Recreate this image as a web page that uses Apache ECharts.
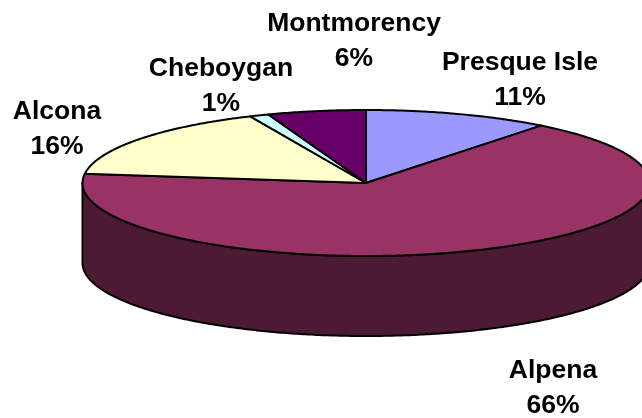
<!DOCTYPE html>
<html>
<head>
<meta charset="utf-8">
<style>
  html, body { margin: 0; padding: 0; background: #fff; }
  #chart { width: 642px; height: 418px; }
</style>
<script src="https://cdn.jsdelivr.net/npm/echarts@6/dist/echarts.min.js"></script>
</head>
<body>
<div id="chart"></div>
<script>
const counties = ['Presque Isle', 'Alpena', 'Alcona', 'Cheboygan', 'Montmorency'];
const shares = [10.6, 66.4, 16.3, 1.1, 5.6];
const faceColors = ['#9999FF', '#993366', '#FFFFCC', '#CCFFFF', '#660066'];
const wallColors = ['#4D4D80', '#4D1A33', '#808066', '#668080', '#330033'];

// label centres, same order as counties
const labelSpots = [[520, 80], [553, 388], [57, 129], [221, 86], [354, 41]];

const cx = 366, cy = 183, rx = 283.5, ry = 73, depth = 80;
const total = shares.reduce((a, b) => a + b, 0);

const starts = [];
let running = 0;
for (const v of shares) {
    starts.push(running);
    running += v;
}

function rimPoint(angle, drop) {
    return [cx + rx * Math.sin(angle), cy - ry * Math.cos(angle) + drop];
}

function arc(a0, a1, drop) {
    const pts = [];
    const n = Math.max(2, Math.ceil(Math.abs(a1 - a0) / 0.01));
    for (let i = 0; i <= n; i++) {
        pts.push(rimPoint(a0 + (a1 - a0) * i / n, drop));
    }
    return pts;
}

function renderSlice(params, api) {
    const i = params.dataIndex;
    const a0 = api.value(1) / total * Math.PI * 2;
    const a1 = a0 + api.value(2) / total * Math.PI * 2;
    const children = [];

    // side wall, only the front half of the rim shows
    const w0 = Math.max(a0, Math.PI / 2);
    const w1 = Math.min(a1, Math.PI * 1.5);
    if (w1 > w0) {
        children.push({
            type: 'polygon',
            shape: { points: arc(w0, w1, 0).concat(arc(w1, w0, depth)) },
            style: { fill: wallColors[i], stroke: '#000', lineWidth: 2, lineJoin: 'round' }
        });
    }

    children.push({
        type: 'polygon',
        shape: { points: [[cx, cy]].concat(arc(a0, a1, 0)) },
        style: { fill: faceColors[i], stroke: '#000', lineWidth: 2, lineJoin: 'round' }
    });

    children.push({
        type: 'text',
        x: labelSpots[i][0],
        y: labelSpots[i][1],
        z2: 10,
        style: {
            text: counties[i] + '\n' + Math.round(api.value(2) / total * 100) + '%',
            fill: '#000',
            font: 'bold 26.5px "Liberation Sans", Arial, sans-serif',
            lineHeight: 35,
            align: 'center',
            verticalAlign: 'middle'
        }
    });

    return { type: 'group', children: children };
}

const chart = echarts.init(document.getElementById('chart'), null, { renderer: 'canvas' });
chart.setOption({
    animation: false,
    backgroundColor: '#fff',
    series: [{
        type: 'custom',
        coordinateSystem: 'none',
        renderItem: renderSlice,
        data: counties.map((name, i) => [i, starts[i], shares[i]])
    }]
});
</script>
</body>
</html>
